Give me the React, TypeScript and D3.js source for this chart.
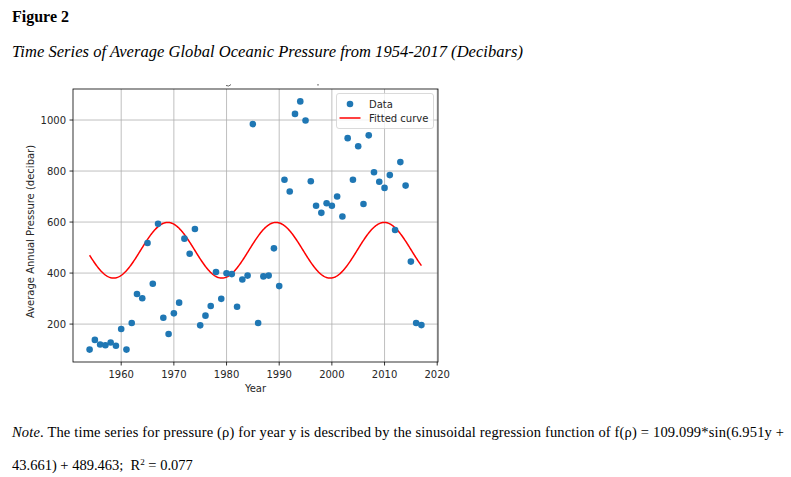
import React from 'react';
import * as d3 from 'd3';

const YEARS = [
  1954, 1955, 1956, 1957, 1958, 1959, 1960, 1961, 1962, 1963, 1964, 1965, 1966, 1967, 1968, 1969,
  1970, 1971, 1972, 1973, 1974, 1975, 1976, 1977, 1978, 1979, 1980, 1981, 1982, 1983, 1984, 1985,
  1986, 1987, 1988, 1989, 1990, 1991, 1992, 1993, 1994, 1995, 1996, 1997, 1998, 1999, 2000, 2001,
  2002, 2003, 2004, 2005, 2006, 2007, 2008, 2009, 2010, 2011, 2012, 2013, 2014, 2015, 2016, 2017,
];
const PRESSURE = [
  100, 138, 120, 117, 128, 115, 181, 100, 204, 318, 301, 518, 358, 593, 225, 161,
  242, 284, 535, 476, 573, 195, 233, 271, 404, 299, 399, 396, 268, 375, 390, 984,
  204, 387, 390, 497, 349, 766, 720, 1024, 1073, 998, 760, 664, 636, 674, 664, 700,
  622, 929, 766, 897, 671, 940, 795, 758, 734, 784, 569, 835, 743, 445, 204, 196,
];
const X_TICKS = [1960, 1970, 1980, 1990, 2000, 2010, 2020];
const Y_TICKS = [200, 400, 600, 800, 1000];

// fitted sinusoid as drawn in the figure
const FIT_AMPLITUDE = 109.099;
const FIT_OFFSET = 489.463;
const FIT_PERIOD = 20.56;
const FIT_PEAK_YEAR = 1968.83;

const FIG_LABEL = 'Figure 2';
const FIG_TITLE = 'Time Series of Average Global Oceanic Pressure from 1954-2017 (Decibars)';
const X_LABEL = 'Year';
const Y_LABEL = 'Average Annual Pressure (decibar)';
const LEGEND = ['Data', 'Fitted curve'];

const SANS = '"DejaVu Sans", sans-serif';
const SERIF = '"Liberation Serif", "Times New Roman", serif';

export default function App() {
  const W = 791;
  const H = 477;
  const L = 73, R = 438, T = 89, B = 362;

  const [x0, x1] = d3.extent(YEARS) as [number, number];
  const [y0, y1] = d3.extent(PRESSURE) as [number, number];
  const xp = (x1 - x0) * 0.05;
  const yp = (y1 - y0) * 0.05;
  const x = d3.scaleLinear().domain([x0 - xp, x1 + xp]).range([L, R]);
  const y = d3.scaleLinear().domain([y0 - yp, y1 + yp]).range([B, T]);

  const fitYears = d3.range(x0, x1 + 0.0001, 0.1);
  const fit = (t: number) =>
    FIT_AMPLITUDE * Math.cos((2 * Math.PI * (t - FIT_PEAK_YEAR)) / FIT_PERIOD) + FIT_OFFSET;
  const line = d3
    .line<number>()
    .x((t) => x(t))
    .y((t) => y(fit(t)));

  const grid = '#b0b0b0';
  const ink = '#262626';
  const fs = 10;

  return (
    <svg
      width={W}
      height={H}
      viewBox={`0 0 ${W} ${H}`}
      style={{ position: 'absolute', left: 0, top: 0, background: '#fff' }}
    >
      <rect x={0} y={0} width={W} height={H} fill="#fff" />
      <text x={12} y={22} fontFamily={SERIF} fontWeight="bold" fontSize={16} fill="#000">
        {FIG_LABEL}
      </text>
      <text
        x={12}
        y={57}
        fontFamily={SERIF}
        fontStyle="italic"
        fontSize={16.5}
        fill="#000"
        textLength={511}
        lengthAdjust="spacing"
      >
        {FIG_TITLE}
      </text>

      {/* cropped-off remnants of the plot title */}
      <path d="M226,85.5 Q229,87 231,84.5" stroke="#555" strokeWidth={0.9} fill="none" />
      <rect x={317.5} y={84} width={1} height={1.6} fill="#555" />

      {/* grid */}
      {X_TICKS.map((t) => (
        <line key={'gx' + t} x1={x(t)} x2={x(t)} y1={T} y2={B} stroke={grid} strokeWidth={0.8} />
      ))}
      {Y_TICKS.map((v) => (
        <line key={'gy' + v} x1={L} x2={R} y1={y(v)} y2={y(v)} stroke={grid} strokeWidth={0.8} />
      ))}

      {/* fitted curve */}
      <path d={line(fitYears) || ''} fill="none" stroke="#ff0000" strokeWidth={1.5} />

      {/* data */}
      {YEARS.map((yr, i) => (
        <circle key={'p' + yr} cx={x(yr)} cy={y(PRESSURE[i])} r={3.3} fill="#1f77b4" />
      ))}

      {/* spines */}
      <rect x={L} y={T} width={R - L} height={B - T} fill="none" stroke="#000" strokeWidth={0.8} />

      {/* x ticks */}
      {X_TICKS.map((t) => (
        <g key={'xt' + t}>
          <line x1={x(t)} x2={x(t)} y1={B} y2={B + 3.5} stroke="#000" strokeWidth={0.8} />
          <text x={x(t)} y={B + 15.5} textAnchor="middle" fontFamily={SANS} fontSize={fs} fill={ink}>
            {t}
          </text>
        </g>
      ))}
      {/* y ticks */}
      {Y_TICKS.map((v) => (
        <g key={'yt' + v}>
          <line x1={L - 3.5} x2={L} y1={y(v)} y2={y(v)} stroke="#000" strokeWidth={0.8} />
          <text
            x={L - 7}
            y={y(v)}
            dy="0.35em"
            textAnchor="end"
            fontFamily={SANS}
            fontSize={fs}
            fill={ink}
          >
            {v}
          </text>
        </g>
      ))}

      <text x={(L + R) / 2} y={B + 29.5} textAnchor="middle" fontFamily={SANS} fontSize={fs} fill={ink}>
        {X_LABEL}
      </text>
      <text
        transform={`translate(34, ${(T + B) / 2 + 6}) rotate(-90)`}
        textAnchor="middle"
        fontFamily={SANS}
        fontSize={fs}
        fill={ink}
      >
        {Y_LABEL}
      </text>

      {/* legend */}
      <g>
        <rect
          x={336.5}
          y={93.5}
          width={97}
          height={35}
          rx={2.5}
          fill="#fff"
          fillOpacity={0.8}
          stroke="#d0d0d0"
          strokeWidth={0.8}
        />
        <circle cx={350} cy={104} r={3.3} fill="#1f77b4" />
        <text x={369} y={104} dy="0.35em" fontFamily={SANS} fontSize={fs} fill={ink}>
          {LEGEND[0]}
        </text>
        <line x1={339.5} x2={360.5} y1={118} y2={118} stroke="#ff0000" strokeWidth={1.5} />
        <text x={369} y={118} dy="0.35em" fontFamily={SANS} fontSize={fs} fill={ink}>
          {LEGEND[1]}
        </text>
      </g>

      {/* note */}
      <text
        x={12}
        y={437}
        fontFamily={SERIF}
        fontSize={14.5}
        fill="#000"
        textLength={772}
        lengthAdjust="spacing"
      >
        <tspan fontStyle="italic">Note</tspan>
        <tspan>. The time series for pressure (ρ) for year y is described by the sinusoidal regression function of f(ρ) = 109.099*sin(6.951y +</tspan>
      </text>
      <text x={12} y={470} fontFamily={SERIF} fontSize={14.5} fill="#000" style={{ whiteSpace: 'pre' }}>
        <tspan>{'43.661) + 489.463;\u00a0\u00a0R'}</tspan>
        <tspan fontSize={9} dy={-5}>2</tspan>
        <tspan dy={5}>{' = 0.077'}</tspan>
      </text>
    </svg>
  );
}
